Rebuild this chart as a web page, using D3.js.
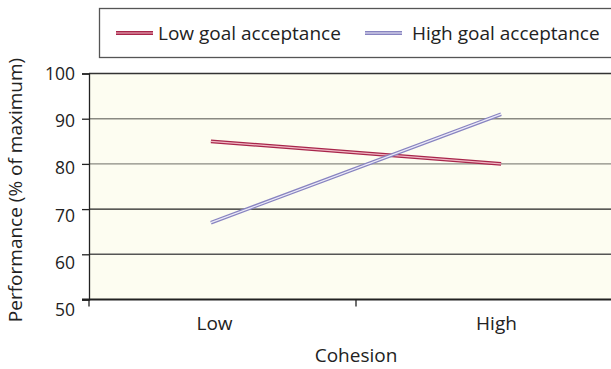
<!DOCTYPE html>
<html>
<head>
<meta charset="utf-8">
<script src="https://cdn.jsdelivr.net/npm/d3@7"></script>
<style>
  body { margin: 0; background: #fff; }
  text { font-family: "Open Sans", sans-serif; fill: #222; }
</style>
</head>
<body>
<div id="chart"></div>
<script>
/**
 * Data
 */
const categories = ["Low", "High"];
const seriesNames = ["Low goal acceptance", "High goal acceptance"];
const lowGoal = [85, 80];
const highGoal = [67, 91];
const yTicks = [50, 60, 70, 80, 90, 100];

const width = 611;
const height = 369;
const plot = { left: 89, right: 623, top: 73.5, bottom: 299.5 };

const svg = d3.select("#chart")
  .append("svg")
  .attr("width", width)
  .attr("height", height);

/**
 * Scales
 */
const xBand = d3.scaleBand()
  .domain(categories)
  .range([plot.left, plot.right]);

const xPoint = d3.scalePoint()
  .domain(categories)
  .range([plot.left, plot.right])
  .padding(0.42);

const yScale = d3.scaleLinear()
  .domain([50, 100])
  .range([plot.bottom, plot.top]);

// plot background
svg.append("rect")
  .attr("x", plot.left)
  .attr("y", plot.top)
  .attr("width", plot.right - plot.left)
  .attr("height", plot.bottom - plot.top)
  .attr("fill", "#fdfdf1");

// gridlines (colours vary in the original)
const gridColor = { 60: "#555", 70: "#222", 80: "#8a8a82", 90: "#8a8a82", 100: "#333" };
svg.append("g")
  .selectAll("line")
  .data(yTicks.filter(d => d > 50))
  .enter()
  .append("line")
  .attr("x1", plot.left)
  .attr("x2", plot.right)
  .attr("y1", d => yScale(d))
  .attr("y2", d => yScale(d))
  .attr("stroke", d => gridColor[d])
  .attr("stroke-width", d => d === 100 ? 1.5 : 1.4);

/**
 * Axes
 */
const yAxis = d3.axisLeft(yScale)
  .tickValues(yTicks)
  .tickSize(7)
  .tickPadding(7);

const yG = svg.append("g")
  .attr("transform", "translate(" + plot.left + ",0)")
  .call(yAxis);
yG.select(".domain").attr("stroke", "#222").attr("stroke-width", 1.3);
yG.selectAll(".tick line").attr("stroke", "#222").attr("stroke-width", 1.3);
yG.selectAll(".tick text")
  .attr("font-size", 17.5)
  .attr("fill", "#222")
  .attr("dy", d => (0.32 + (100 - d) * 0.012) + "em")
  .style("font-family", "'Open Sans', sans-serif");

const xAxis = d3.axisBottom(xBand)
  .tickSize(0)
  .tickPadding(17);

const xG = svg.append("g")
  .attr("transform", "translate(0," + plot.bottom + ")")
  .call(xAxis);
xG.select(".domain").remove();
xG.selectAll(".tick text")
  .attr("font-size", 19)
  .attr("fill", "#222")
  .attr("dx", (d, i) => i === 0 ? -8 : 7)
  .style("font-family", "'Open Sans', sans-serif");

// bottom axis line and category separators
svg.append("line")
  .attr("x1", plot.left - 7)
  .attr("x2", plot.right)
  .attr("y1", plot.bottom)
  .attr("y2", plot.bottom)
  .attr("stroke", "#222")
  .attr("stroke-width", 2);

svg.append("g")
  .selectAll("line")
  .data(categories)
  .enter()
  .append("line")
  .attr("x1", d => xBand(d))
  .attr("x2", d => xBand(d))
  .attr("y1", plot.bottom)
  .attr("y2", plot.bottom + 7)
  .attr("stroke", "#222")
  .attr("stroke-width", 1.3);

/**
 * Lines (double stroke look)
 */
const series = [
  { name: seriesNames[0], values: lowGoal, outer: "#a8264b", inner: "#f0b8c4" },
  { name: seriesNames[1], values: highGoal, outer: "#8884c0", inner: "#eceaf8" }
];

const line = d3.line()
  .x((d, i) => xPoint(categories[i]))
  .y(d => yScale(d));

series.forEach(function(s) {
  svg.append("path")
    .datum(s.values)
    .attr("d", line)
    .attr("fill", "none")
    .attr("stroke", s.outer)
    .attr("stroke-width", 3.8);
  svg.append("path")
    .datum(s.values)
    .attr("d", line)
    .attr("fill", "none")
    .attr("stroke", s.inner)
    .attr("stroke-width", 1.2);
});

/**
 * Legend
 */
svg.append("rect")
  .attr("x", 99.5)
  .attr("y", 8.5)
  .attr("width", 520)
  .attr("height", 49)
  .attr("fill", "#fff")
  .attr("stroke", "#555")
  .attr("stroke-width", 1.3);

const legendX = [116, 365];
const legendGap = [42, 47];
series.forEach(function(s, i) {
  const g = svg.append("g")
    .attr("transform", "translate(" + legendX[i] + ",33)");
  g.append("line")
    .attr("x1", 0).attr("x2", 37)
    .attr("stroke", s.outer).attr("stroke-width", 3.8);
  g.append("line")
    .attr("x1", 0).attr("x2", 37)
    .attr("stroke", s.inner).attr("stroke-width", 1.2);
  g.append("text")
    .attr("x", legendGap[i])
    .attr("y", 6.5)
    .attr("font-size", 19)
    .text(s.name);
});

/**
 * Axis titles
 */
svg.append("text")
  .attr("x", 356)
  .attr("y", 362)
  .attr("text-anchor", "middle")
  .attr("font-size", 19)
  .text("Cohesion");

svg.append("text")
  .attr("transform", "translate(22,190) rotate(-90)")
  .attr("text-anchor", "middle")
  .attr("font-size", 19)
  .text("Performance (% of maximum)");
</script>
</body>
</html>
